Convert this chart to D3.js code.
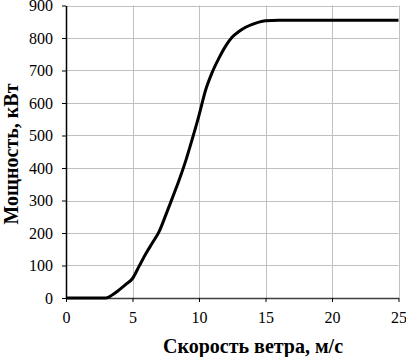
<!DOCTYPE html>
<html lang="ru">
<head>
    <meta charset="UTF-8">
    <title>Мощность ветроустановки</title>
    <style>
        body { margin: 0; background: #fff; }
        svg { display: block; }
        .title { font-family: "Liberation Serif", serif; font-weight: bold; font-size: 20px; fill: #000; }
    </style>
    <script src="https://cdn.jsdelivr.net/npm/d3@7"></script>
</head>
<body>
<svg id="svg_main"></svg>
<script>
    // wind speed, m/s
    const speed = [0, 1, 2, 3, 3.5, 4, 4.5, 5, 5.5, 6, 6.5, 7, 7.5, 8, 8.5, 9, 9.5, 10, 10.5, 11, 11.5, 12,
        12.5, 13, 13.5, 14, 14.5, 15, 16, 17, 18, 19, 20, 21, 22, 23, 24, 25];
    // power, kW
    const power = [0, 0, 0, 0, 10, 25, 42, 60, 98, 136, 170, 204, 255, 308, 362, 422, 490, 562, 640, 695, 738, 775,
        803, 820, 833, 842, 849, 853, 855, 855, 855, 855, 855, 855, 855, 855, 855, 855];
    const xTicks = [0, 5, 10, 15, 20, 25];
    const yTicks = [0, 100, 200, 300, 400, 500, 600, 700, 800, 900];

    const width = 406, height = 357;
    const mLeft = 66, mTop = 5.5, mRight = 398.5, mBottom = 298;

    let svg = d3.select('#svg_main').attr('width', width).attr('height', height);

    let x = d3.scaleLinear().domain([0, 25]).range([mLeft, mRight]);
    let y = d3.scaleLinear().domain([0, 900]).range([mBottom, mTop]);

    // grid
    svg.append('g').selectAll('line').data(yTicks.slice(1)).enter().append('line')
        .attr('x1', mLeft).attr('x2', mRight)
        .attr('y1', d => Math.round(y(d)) + 0.5).attr('y2', d => Math.round(y(d)) + 0.5)
        .attr('stroke', '#c0c0c0').attr('stroke-width', 1);
    svg.append('g').selectAll('line').data(xTicks.slice(1)).enter().append('line')
        .attr('y1', mTop).attr('y2', mBottom)
        .attr('x1', d => Math.round(x(d)) + 0.5).attr('x2', d => Math.round(x(d)) + 0.5)
        .attr('stroke', '#c0c0c0').attr('stroke-width', 1);

    // axes
    let xAxis = svg.append('g').attr('transform', `translate(0,${mBottom})`)
        .call(d3.axisBottom(x).tickValues(xTicks).tickSize(4).tickPadding(10).tickSizeOuter(0));
    let yAxis = svg.append('g').attr('transform', `translate(${mLeft},0)`)
        .call(d3.axisLeft(y).tickValues(yTicks).tickSize(4).tickPadding(9).tickSizeOuter(0));
    xAxis.select('.domain').attr('stroke', '#404040').attr('stroke-width', 1.5);
    yAxis.select('.domain').attr('stroke', '#000').attr('stroke-width', 1.5);
    svg.selectAll('.tick line').attr('stroke', '#000');
    svg.selectAll('.tick text')
        .attr('font-family', '"Liberation Serif", serif')
        .attr('font-size', 16)
        .attr('fill', '#000');

    // curve
    let line = d3.line()
        .x((d, i) => x(speed[i]))
        .y(d => y(d))
        .curve(d3.curveMonotoneX);
    svg.append('path')
        .datum(power)
        .attr('d', line)
        .attr('fill', 'none')
        .attr('stroke', '#000')
        .attr('stroke-width', 3)
        .attr('stroke-linejoin', 'round');

    // titles
    svg.append('text').attr('class', 'title')
        .attr('x', 253).attr('y', 353)
        .attr('text-anchor', 'middle')
        .text('Скорость ветра, м/с');
    svg.append('text').attr('class', 'title')
        .attr('transform', 'translate(18,154) rotate(-90)')
        .attr('text-anchor', 'middle')
        .text('Мощность, кВт');
</script>
</body>
</html>
